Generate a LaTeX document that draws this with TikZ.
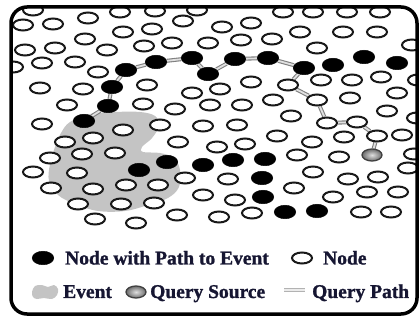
\documentclass[tikz,border=0pt]{standalone}
\usepackage{fontspec}
\setmainfont{Liberation Serif}[BoldFeatures={FakeBold=1.2}]
\usetikzlibrary{shapes.geometric,backgrounds}
\definecolor{eventgray}{RGB}{196,196,196}
\definecolor{txtcol}{RGB}{22,22,50}
\begin{document}
\begin{tikzpicture}[x=1pt,y=-1pt,
  onode/.style={ellipse, draw=black!90, line width=2pt, fill=white, minimum width=20pt, minimum height=11pt, inner sep=0pt},
  bnode/.style={ellipse, fill=black, draw=black, line width=0.5pt, minimum width=21.5pt, minimum height=13.5pt, inner sep=0pt},
  srcnode/.style={ellipse, draw=black!75, line width=1.3pt, inner color=gray!25, outer color=gray!85!black, minimum width=20pt, minimum height=12pt, inner sep=0pt},
  qpath/.style={draw=black!50, line width=1.1pt, double=black!12, double distance=1.8pt},
  legtext/.style={anchor=base west, inner sep=0pt, text=txtcol, font=\bfseries\fontsize{19.5}{20}\selectfont},
  frameline/.style={line width=3.5pt, rounded corners=16pt}]
\useasboundingbox (0,0) rectangle (420,320);
\begin{scope}
\clip[rounded corners=16pt] (11,7) rectangle (417,314);
% open nodes
\foreach \x/\y [count=\i] in {33/10,23/25,53/24,88/18,120/12,155/11,197/10,123/32,152/29,183/21,222/27,251/23,283/12,313/12,347/12,380/12,300/32,343/32,377/32,25/50,55/48,85/39,107/50,144/46,172/43,208/43,241/40,272/39,317/48,412/45,13/67,42/63,75/62,98/72,40/88,83/89,147/85,192/93,220/89,251/82,321/80,352/80,381/77,418/80,397/93,67/105,143/104,175/109,210/105,242/105,273/100,350/98,291/116,387/111,417/118,42/124,123/130,160/125,203/126,237/125,65/142,93/138,178/142,217/147,245/144,277/136,312/142,344/137,402/135,50/158,82/154,115/153,297/155,339/157,414/154,33/172,77/173,185/178,228/179,313/172,348/179,378/177,408/168,51/188,93/189,126/185,158/185,203/195,235/200,294/188,333/197,367/192,398/192,78/204,121/204,154/203,177/215,219/217,252/213,361/212,391/212,95/219,136/223}
  \node[onode] (o\i) at (\x,\y) {};
% black nodes without path
\foreach \x/\y [count=\i] in {333/65,364/57,397/63,139/170,167/162,203/165,233/160,265/159,262/178,263/197,285/212,317/211}
  \node[bnode] (b\i) at (\x,\y) {};
% path nodes
\foreach \x/\y [count=\i] in {84/121,108/106,112/87,126/70,156/62,192/58,208/74,235/59,268/58,304/68}
  \node[bnode] (p\i) at (\x,\y) {};
\foreach \x/\y [count=\i] in {288/85,317/100,327/123,357/122,377/136}
  \node[onode] (q\i) at (\x,\y) {};
\node[srcnode] (src) at (372,155) {};
\end{scope}
\begin{scope}[on background layer]
\fill[eventgray] plot[smooth cycle, tension=0.6] coordinates {(70,122) (90,114) (115,112) (140,112) (155,116) (159,126) (152,138) (142,147) (143,152) (160,153) (174,158) (180,170) (179,187) (168,198) (148,205) (125,211) (98,211) (75,204) (58,195) (49,181) (50,164) (55,147) (61,133)};
\draw[qpath] (p1) -- (p2) -- (p3) -- (p4) -- (p5) -- (p6) -- (p7) -- (p8) -- (p9) -- (p10) -- (q1) -- (q2) -- (q3) -- (q4) -- (q5) -- (src);
\end{scope}
% frame
\draw[frameline] (11,7) rectangle (417,314);
% legend
\node[bnode] (lb) at (43,258) {};
\node[legtext] (lbt) at (65,264.5) {Node with Path to Event};
\node[onode] (lo) at (302,258) {};
\node[legtext] (lot) at (323,264.5) {Node};
\fill[eventgray] plot[smooth cycle, tension=0.6] coordinates {(32,292) (35,286) (42,285) (48,287) (54,285) (58,289) (57,295) (52,299) (44,298) (37,299) (33,297)};
\node[legtext] (let) at (63,298) {Event};
\node[srcnode] (ls) at (136,292) {};
\node[legtext] (lst) at (150,298) {Query Source};
\coordinate (lq1) at (284,290);
\coordinate (lq2) at (305,290);
\draw[qpath, draw=black!30, double=black!8] (lq1) -- (lq2);
\node[legtext] (lqt) at (312,298) {Query Path};
\end{tikzpicture}
\end{document}
